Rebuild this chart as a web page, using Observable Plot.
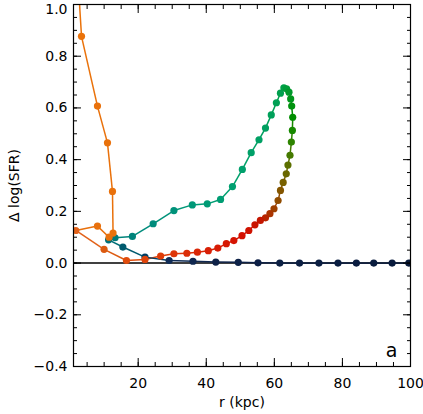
<!DOCTYPE html>
<html><head><meta charset="utf-8">
<script src="https://cdn.jsdelivr.net/npm/d3@7"></script>
<script src="https://cdn.jsdelivr.net/npm/@observablehq/plot@0.6"></script>
<style>html,body{margin:0;padding:0;background:#fff} svg{display:block}</style>
</head><body><div id="chart"></div>
<script>
// trajectory: radius (kpc) and Δ log(SFR), in drawing order
const r = [1.4, 3.35, 8.04, 10.98, 12.45, 12.62, 11.45, 8.04, 1.68, 9.98,
  16.56, 22.0, 26.6, 30.5, 34.3, 37.4, 40.6, 43.4, 45.9, 48.1,
  50.5, 52.5, 54.3, 55.9, 57.4, 58.7, 59.9, 61.1, 61.8, 62.6,
  63.5, 64.0, 64.6, 65.0, 65.3, 65.4, 65.1, 64.8, 64.3, 63.6,
  62.8, 61.8, 60.6, 59.1, 57.4, 55.5, 53.2, 50.6, 47.7, 44.2,
  40.3, 35.9, 30.5, 24.4, 18.3, 13.2, 11.3, 15.5, 22.0, 29.1,
  36.1, 42.8, 49.4, 55.2, 61.6, 67.4, 73.1, 78.7, 84.1, 89.2,
  94.6, 99.5];
const dlogSFR = [1.30, 0.877, 0.607, 0.465, 0.277, 0.116, 0.100, 0.143, 0.126, 0.053,
  0.010, 0.014, 0.027, 0.036, 0.038, 0.042, 0.048, 0.058, 0.075, 0.087,
  0.106, 0.126, 0.148, 0.165, 0.175, 0.191, 0.210, 0.242, 0.281, 0.312,
  0.345, 0.379, 0.417, 0.468, 0.513, 0.564, 0.607, 0.635, 0.661, 0.674,
  0.678, 0.657, 0.620, 0.573, 0.522, 0.477, 0.427, 0.362, 0.296, 0.246,
  0.229, 0.225, 0.203, 0.152, 0.103, 0.098, 0.090, 0.062, 0.023, 0.010,
  0.007, 0.004, 0.003, 0.001, 0.000, 0.000, 0.000, 0.000, 0.000, 0.000,
  0.000, 0.000];

const xTickLabels = [20, 40, 60, 80, 100];
const yTickLabels = [-0.4, -0.2, 0.0, 0.2, 0.4, 0.6, 0.8, 1.0];
const xLabel = "r (kpc)";
const yLabel = "Δ log(SFR)";
const panelLabel = "a";

// colour ramp along the trajectory (step index -> colour)
const rampSteps = [0, 7, 8, 9, 10, 12, 16, 20, 23, 25, 27, 29, 31, 33, 35, 37, 40, 44, 48, 51, 53, 55, 56, 57, 58, 59, 61, 71];
const rampColors = ["#EA720A", "#E8700C", "#E2621A", "#DC5A10", "#E04C0C", "#DE3C08", "#D82006", "#D41000",
  "#C41600", "#AA3400", "#904C00", "#786000", "#5C7000", "#2E8400", "#008E00", "#00961C", "#00A048",
  "#00A060", "#00A070", "#009878", "#008C7C", "#007A7A", "#006E76", "#005A6E", "#003E64", "#102C56",
  "#0E2248", "#081A3C"];
const ramp = d3.scaleLinear().domain(rampSteps).range(rampColors).interpolate(d3.interpolateRgb).clamp(true);

const pts = r.map((x, i) => ({x, y: dlogSFR[i], c: ramp(i)}));
const segs = pts.slice(1).map((p, i) => ({x1: pts[i].x, y1: pts[i].y, x2: p.x, y2: p.y, c: pts[i].c}));
const ptsDraw = pts.slice().reverse();

const yMinor = d3.range(-8, 21).map(k => k * 0.05);
const xMinor = d3.range(1, 21).map(k => k * 5);

const fmt = d => d.toFixed(1).replace("-", "\u2212");
const yTop = yTickLabels[yTickLabels.length - 1];

const chart = Plot.plot({
  width: 423, height: 414,
  marginLeft: 73, marginRight: 13, marginTop: 4, marginBottom: 48,
  style: {fontFamily: "DejaVu Sans, sans-serif", fontSize: "14px", color: "#000", background: "#fff"},
  x: {domain: [1, 100], axis: null},
  y: {domain: [-0.4, 1.0], axis: null},
  marks: [
    Plot.ruleY([0], {stroke: "#000", strokeWidth: 1.5}),
    Plot.link(segs, {x1: "x1", y1: "y1", x2: "x2", y2: "y2", stroke: "c", strokeWidth: 1.5, clip: true}),
    Plot.dot(ptsDraw, {x: "x", y: "y", r: 3.6, fill: "c", stroke: null, clip: true}),
    Plot.axisY({ticks: yTickLabels, anchor: "left", tickSize: -8, fill: "none", label: null}),
    Plot.axisY({ticks: yMinor, anchor: "left", tickSize: -4, fill: "none", label: null}),
    Plot.axisY({ticks: yTickLabels, anchor: "right", tickSize: -8, fill: "none", label: null}),
    Plot.axisY({ticks: yMinor, anchor: "right", tickSize: -4, fill: "none", label: null}),
    Plot.axisX({ticks: xTickLabels, anchor: "bottom", tickSize: -8, fill: "none", label: null}),
    Plot.axisX({ticks: xMinor, anchor: "bottom", tickSize: -4, fill: "none", label: null}),
    Plot.axisX({ticks: xTickLabels, anchor: "top", tickSize: -8, fill: "none", label: null}),
    Plot.axisX({ticks: xMinor, anchor: "top", tickSize: -4, fill: "none", label: null}),
    Plot.axisY({ticks: yTickLabels.filter(d => d !== yTop), anchor: "left", tickSize: 0, tickPadding: 6, tickFormat: fmt, label: null, fontSize: 14}),
    Plot.axisY({ticks: [yTop], anchor: "left", tickSize: 0, tickPadding: 6, tickFormat: fmt, label: null, fontSize: 14, dy: 5}),
    Plot.axisX({ticks: xTickLabels, anchor: "bottom", tickSize: 0, tickPadding: 12, tickFormat: d => String(d), label: null, fontSize: 14}),
    Plot.frame({stroke: "#000", strokeWidth: 1.2}),
    Plot.text([yLabel], {frameAnchor: "left", dx: -59, rotate: -90, textAnchor: "middle", lineAnchor: "middle", fontSize: 14}),
    Plot.text([xLabel], {frameAnchor: "bottom", dy: 40, lineAnchor: "bottom", fontSize: 14}),
    Plot.text([panelLabel], {frameAnchor: "bottom-right", dx: -13, dy: -10, textAnchor: "end", lineAnchor: "bottom", fontSize: 19})
  ]
});
document.getElementById("chart").appendChild(chart);
</script>
</body></html>
